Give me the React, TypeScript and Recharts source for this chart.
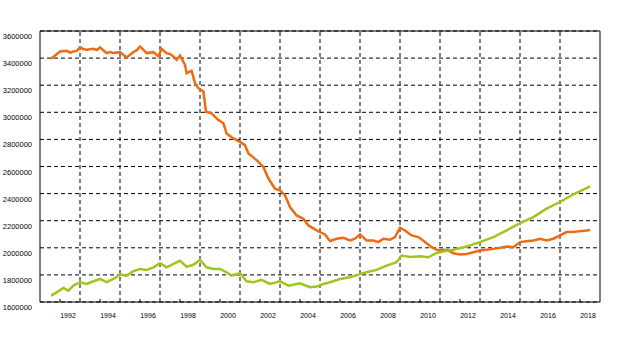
import { LineChart, Line, XAxis, YAxis, CartesianGrid, ReferenceLine, ReferenceArea } from "recharts"

// orange series (years as decimals)
const orangeYears = [
  1991.55, 1991.8, 1992.0, 1992.33, 1992.5, 1992.67, 1992.85, 1993.0, 1993.2, 1993.33, 1993.67, 1993.85,
  1994.0, 1994.15, 1994.33, 1994.5, 1994.67, 1995.0, 1995.33, 1995.5, 1995.67, 1995.85, 1996.0, 1996.15,
  1996.33, 1996.67, 1996.92, 1997.08, 1997.33, 1997.5, 1997.67, 1997.83, 1998.0, 1998.25, 1998.33, 1998.58,
  1998.75, 1998.92, 1999.17, 1999.3, 1999.58, 1999.92, 2000.17, 2000.33, 2000.67, 2001.0, 2001.25, 2001.42,
  2001.83, 2002.17, 2002.42, 2002.75, 2003.0, 2003.25, 2003.5, 2003.83, 2004.17, 2004.42, 2004.75, 2005.0,
  2005.25, 2005.5, 2005.83, 2006.17, 2006.5, 2006.75, 2007.0, 2007.33, 2007.67, 2007.92, 2008.17, 2008.5,
  2008.75, 2009.0, 2009.25, 2009.58, 2009.92, 2010.25, 2010.58, 2010.92, 2011.17, 2011.42, 2011.67, 2012.0,
  2012.33, 2012.67, 2013.0, 2013.33, 2013.67, 2014.0, 2014.33, 2014.67, 2015.0, 2015.33, 2015.67, 2016.0,
  2016.33, 2016.67, 2017.0, 2017.33, 2017.67, 2018.0, 2018.33, 2018.5,
]
const orangeValues = [
  3395000, 3425000, 3449000, 3454000, 3440000, 3449000, 3455000, 3479000, 3465000, 3461000, 3469000, 3460000,
  3479000, 3460000, 3437000, 3445000, 3437000, 3444000, 3404000, 3425000, 3444000, 3460000, 3486000, 3465000,
  3437000, 3444000, 3412000, 3469000, 3437000, 3430000, 3412000, 3387000, 3419000, 3350000, 3289000, 3306000,
  3215000, 3178000, 3153000, 3004000, 2993000, 2943000, 2919000, 2844000, 2807000, 2782000, 2758000, 2696000,
  2647000, 2597000, 2511000, 2437000, 2424000, 2387000, 2301000, 2239000, 2215000, 2165000, 2136000, 2116000,
  2099000, 2050000, 2067000, 2074000, 2054000, 2067000, 2099000, 2054000, 2054000, 2042000, 2067000, 2059000,
  2079000, 2148000, 2128000, 2091000, 2079000, 2042000, 2005000, 1980000, 1985000, 1980000, 1960000, 1950000,
  1955000, 1967000, 1980000, 1985000, 1992000, 2000000, 2010000, 2005000, 2042000, 2049000, 2054000, 2067000,
  2054000, 2067000, 2091000, 2116000, 2116000, 2123000, 2128000, 2132000,
]

// green series
const greenYears = [
  1991.55, 1991.83, 1992.17, 1992.42, 1992.67, 1993.0, 1993.33, 1993.67, 1994.0, 1994.33, 1994.67, 1995.0,
  1995.33, 1995.67, 1996.0, 1996.33, 1996.67, 1997.0, 1997.33, 1997.67, 1998.0, 1998.33, 1998.67, 1999.0,
  1999.33, 1999.67, 2000.0, 2000.33, 2000.58, 2001.0, 2001.33, 2001.67, 2002.08, 2002.5, 2003.0, 2003.42,
  2004.0, 2004.5, 2004.83, 2005.17, 2005.5, 2006.0, 2006.5, 2006.92, 2007.33, 2007.83, 2008.33, 2008.83,
  2009.08, 2009.5, 2010.0, 2010.42, 2010.83, 2011.42, 2011.67, 2012.33, 2013.0, 2013.67, 2014.33, 2015.0,
  2015.67, 2016.33, 2017.0, 2017.67, 2018.17, 2018.5,
]
const greenValues = [
  1647000, 1671000, 1704000, 1684000, 1721000, 1746000, 1733000, 1753000, 1770000, 1746000, 1770000, 1802000,
  1795000, 1827000, 1844000, 1837000, 1856000, 1886000, 1856000, 1881000, 1905000, 1860000, 1875000, 1910000,
  1856000, 1844000, 1844000, 1819000, 1795000, 1812000, 1753000, 1746000, 1764000, 1733000, 1753000, 1721000,
  1738000, 1709000, 1714000, 1733000, 1746000, 1770000, 1783000, 1802000, 1819000, 1837000, 1869000, 1893000,
  1943000, 1933000, 1938000, 1930000, 1962000, 1981000, 1985000, 2010000, 2042000, 2079000, 2128000, 2182000,
  2227000, 2289000, 2338000, 2395000, 2430000, 2454000,
]

const yearTicks = [1992, 1994, 1996, 1998, 2000, 2002, 2004, 2006, 2008, 2010, 2012, 2014, 2016, 2018]
const gridYears = [1993, 1995, 1997, 1999, 2001, 2003, 2005, 2007, 2009, 2011, 2013, 2015, 2017]
const valueTicks = [1600000, 1800000, 2000000, 2200000, 2400000, 2600000, 2800000, 3000000, 3200000, 3400000, 3600000]

const orangeData = orangeYears.map((t, i) => ({ t, v: orangeValues[i] }))
const greenData = greenYears.map((t, i) => ({ t, v: greenValues[i] }))

const FONT = "'Liberation Sans', Arial, sans-serif"

const YearTick = (props: any) => {
  const { x, y, payload } = props
  return (
    <g>
      <line x1={x} x2={x} y1={y} y2={y - 3} stroke="#000" />
      <text x={x + 8} y={y + 16} textAnchor="middle" fontSize={7} fontFamily={FONT} fill="#000">
        {payload.value}
      </text>
    </g>
  )
}

const ValueTick = (props: any) => {
  const { x, y, payload } = props
  return (
    <text x={x - 8} y={y + 8} textAnchor="end" fontSize={7.5} fontFamily={FONT} fill="#000">
      {payload.value}
    </text>
  )
}

export default function App() {
  return (
    <div style={{ position: "absolute", left: 0, top: 0, width: 640, height: 360, background: "#fff" }}>
      <LineChart width={640} height={360} margin={{ top: 31, right: 40, bottom: 0, left: 0 }}>
        <CartesianGrid vertical={false} stroke="#000" strokeDasharray="4 3" />
        {gridYears.map((yr) => (
          <ReferenceLine key={yr} x={yr} stroke="#000" strokeDasharray="4 3" />
        ))}
        <XAxis
          dataKey="t"
          type="number"
          domain={[1991, 2019]}
          ticks={yearTicks}
          height={58}
          axisLine={false}
          tickLine={false}
          tickSize={0}
          tickMargin={0}
          tick={<YearTick />}
          allowDataOverflow
        />
        <YAxis
          type="number"
          domain={[1600000, 3600000]}
          ticks={valueTicks}
          width={40}
          axisLine={false}
          tickLine={false}
          tickSize={0}
          tickMargin={0}
          tick={<ValueTick />}
          allowDataOverflow
        />
        <Line data={orangeData} dataKey="v" stroke="#F06A12" strokeWidth={2.5} dot={false} isAnimationActive={false} />
        <Line data={greenData} dataKey="v" stroke="#9DC61E" strokeWidth={2.5} dot={false} isAnimationActive={false} />
        <ReferenceArea x1={1991} x2={2019} y1={1600000} y2={3600000} fill="none" stroke="#000" strokeWidth={1} />
      </LineChart>
    </div>
  )
}
